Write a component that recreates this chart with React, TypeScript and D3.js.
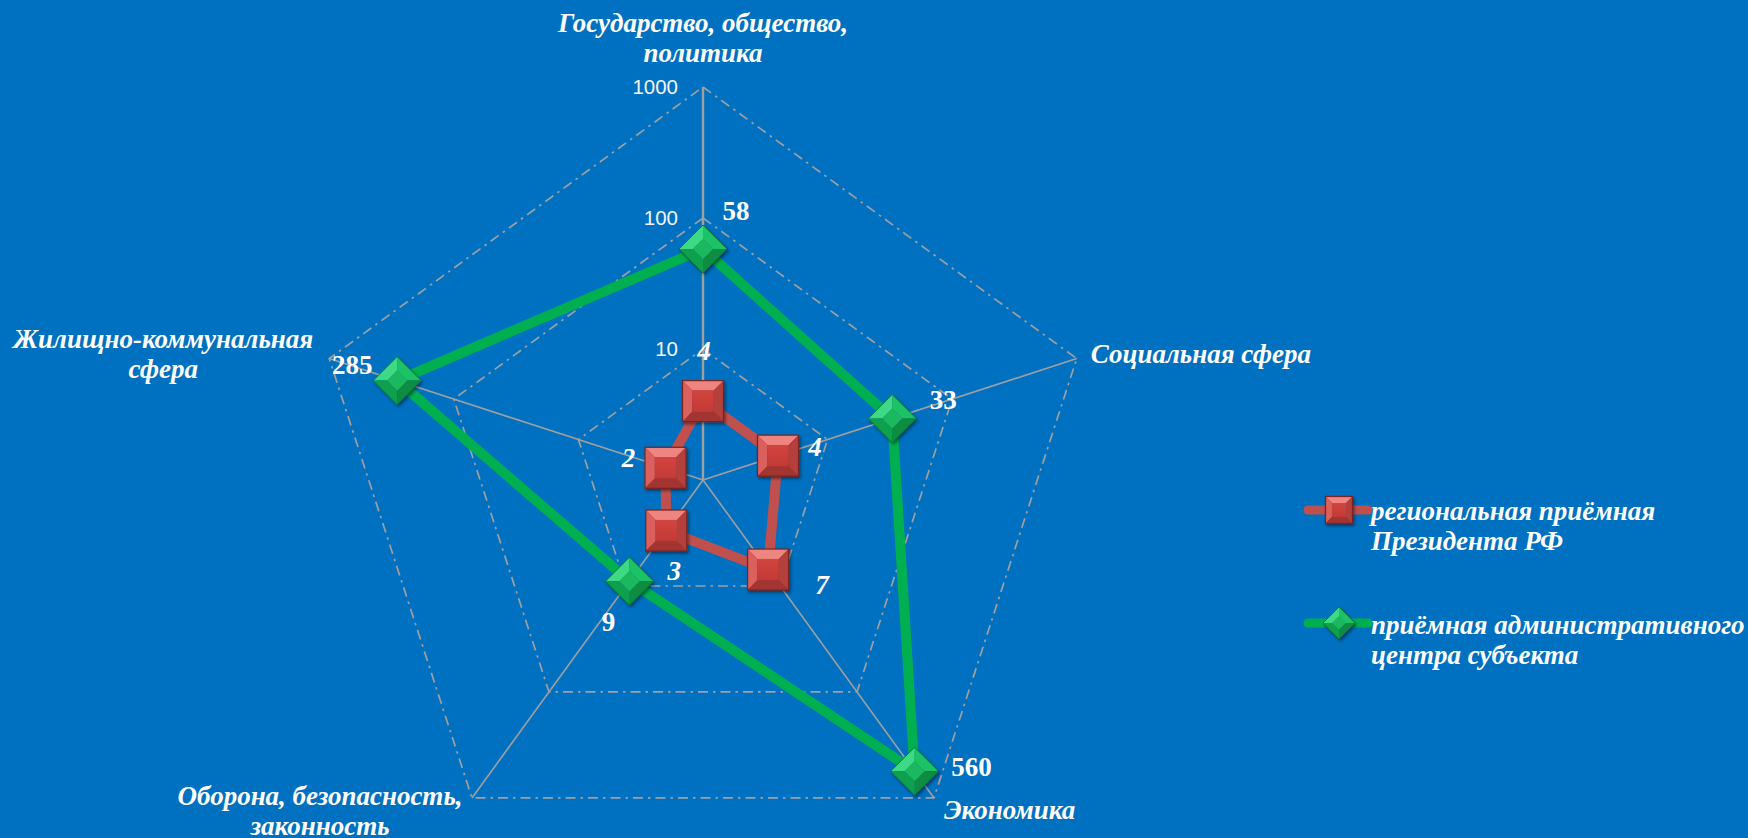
import React from "react";
import * as d3 from "d3";

// ---- data ----
const categories: string[] = [
  "Государство, общество,\nполитика",
  "Социальная сфера",
  "Экономика",
  "Оборона, безопасность,\nзаконность",
  "Жилищно-коммунальная\nсфера",
];
const seriesNames: string[] = [
  "региональная приёмная\nПрезидента РФ",
  "приёмная административного\nцентра субъекта",
];
const regionalValues: number[] = [4, 4, 7, 3, 2];
const adminValues: number[] = [58, 33, 560, 9, 285];
const tickValues: number[] = [1, 10, 100, 1000];

// ---- layout (positions / styles, not data) ----
const W = 1748;
const H = 838;
const CX = 703;
const CY = 480;
const R = 393;
const BG = "#0070c0";
const GRID = "#a0a0a0";
const RED = "#c0504d";
const GREEN = "#00b050";
const SERIF = "'Liberation Serif', 'Times New Roman', serif";
const SANS = "'Liberation Sans', Arial, sans-serif";
const FS = 27;

// label placement relative to outer vertex: [dx, dy, anchor]
const catLabelPos: [number, number, string][] = [
  [0, -55, "middle"],
  [14, 4, "start"],
  [10, 21, "start"],
  [-152, 7, "middle"],
  [-166, -11, "middle"],
];
const redLabelOff: [number, number][] = [
  [1, -51],
  [37, -9],
  [54, 15],
  [8, 40],
  [-37, -10],
];
const greenLabelOff: [number, number][] = [
  [33, -38],
  [51, -19],
  [57, -5],
  [-21, 40],
  [-45, -16],
];

const rScale = d3.scaleLog().domain([1, 1000]).range([0, R]);
const angle = (i: number) => (i * 2 * Math.PI) / categories.length;
const pt = (i: number, r: number): [number, number] => [
  CX + r * Math.sin(angle(i)),
  CY - r * Math.cos(angle(i)),
];

function BevelSquare({ x, y, s }: { x: number; y: number; s: number }) {
  const h = s / 2;
  const b = s * 0.24;
  const i = h - b;
  const P = (arr: number[][]) => arr.map((p) => p.join(",")).join(" ");
  return (
    <g filter="url(#shadow)">
      <rect x={x - h} y={y - h} width={s} height={s} fill="#8f2c29" />
      <polygon points={P([[x - h, y - h], [x + h, y - h], [x + i, y - i], [x - i, y - i]])} fill="#ee8580" />
      <polygon points={P([[x - h, y - h], [x - i, y - i], [x - i, y + i], [x - h, y + h]])} fill="#d9605b" />
      <polygon points={P([[x + h, y - h], [x + h, y + h], [x + i, y + i], [x + i, y - i]])} fill="#b43f3b" />
      <polygon points={P([[x - h, y + h], [x - i, y + i], [x + i, y + i], [x + h, y + h]])} fill="#a23431" />
      <rect x={x - i} y={y - i} width={2 * i} height={2 * i} fill="url(#redInner)" />
      <rect x={x - h} y={y - h} width={s} height={s} fill="none" stroke="#7a2422" strokeWidth={1.2} />
    </g>
  );
}

function BevelDiamond({ x, y, h }: { x: number; y: number; h: number }) {
  const i = h * 0.42;
  const P = (arr: number[][]) => arr.map((p) => p.join(",")).join(" ");
  const T = [x, y - h], Rt = [x + h, y], B = [x, y + h], L = [x - h, y];
  const t = [x, y - i], r = [x + i, y], b = [x, y + i], l = [x - i, y];
  return (
    <g filter="url(#shadow)">
      <polygon points={P([L, T, t, l])} fill="#3ed985" />
      <polygon points={P([T, Rt, r, t])} fill="#1fc266" />
      <polygon points={P([Rt, B, b, r])} fill="#078c42" />
      <polygon points={P([B, L, l, b])} fill="#0ea04e" />
      <polygon points={P([t, r, b, l])} fill="#1cb85f" />
      <polygon points={P([T, Rt, B, L])} fill="none" stroke="#087a38" strokeWidth={1} />
    </g>
  );
}

export default function App() {
  const n = categories.length;
  const line = d3
    .lineRadial<number>()
    .angle((_, i) => angle(i))
    .radius((v) => rScale(v))
    .curve(d3.curveLinearClosed);

  const ringPath = (v: number) =>
    d3
      .lineRadial<number>()
      .angle((_, i) => angle(i))
      .radius(() => rScale(v))
      .curve(d3.curveLinearClosed)(d3.range(n));

  const multiline = (
    text: string,
    x: number,
    y: number,
    anchor: string,
    lh: number,
    key: string,
    size: number
  ) => (
    <text
      key={key}
      x={x}
      y={y}
      textAnchor={anchor as any}
      fill="#ffffff"
      fontFamily={SERIF}
      fontStyle="italic"
      fontWeight="bold"
      fontSize={size}
    >
      {text.split("\n").map((s, k) => (
        <tspan key={k} x={x} dy={k === 0 ? 0 : lh}>
          {s}
        </tspan>
      ))}
    </text>
  );

  return (
    <div style={{ position: "fixed", left: 0, top: 0 }}>
      <svg width={W} height={H} style={{ display: "block" }}>
        <defs>
          <filter id="shadow" x="-50%" y="-50%" width="200%" height="200%">
            <feDropShadow dx="1.5" dy="2" stdDeviation="1.5" floodColor="#000" floodOpacity="0.45" />
          </filter>
          <linearGradient id="redInner" x1="0" y1="0" x2="0" y2="1">
            <stop offset="0" stopColor="#d2443f" />
            <stop offset="1" stopColor="#c23a36" />
          </linearGradient>
        </defs>
        <rect width={W} height={H} fill={BG} />

        {/* grid rings (skip center) */}
        {tickValues.slice(1).map((v) => (
          <path
            key={"ring" + v}
            d={ringPath(v) || ""}
            transform={`translate(${CX},${CY})`}
            fill="none"
            stroke={GRID}
            strokeWidth={1.7}
            strokeDasharray="10 5 2.5 5"
          />
        ))}
        {/* spokes */}
        {d3.range(n).map((i) => {
          const [x, y] = pt(i, R);
          return <line key={"sp" + i} x1={CX} y1={CY} x2={x} y2={y} stroke={GRID} strokeWidth={i === 0 ? 2.4 : 1.6} />;
        })}
        {/* tick labels */}
        {tickValues.map((v) => (
          <text
            key={"t" + v}
            x={CX - 25}
            y={CY - rScale(v)}
            dy="0.35em"
            textAnchor="end"
            fill="#f2f5f9"
            fontFamily={SANS}
            fontSize={20.5}
          >
            {v}
          </text>
        ))}

        {/* series lines */}
        <path d={line(regionalValues) || ""} transform={`translate(${CX},${CY})`} fill="none" stroke={RED} strokeWidth={10} strokeLinejoin="round" />
        <path d={line(adminValues) || ""} transform={`translate(${CX},${CY})`} fill="none" stroke={GREEN} strokeWidth={10} strokeLinejoin="round" />

        {/* markers */}
        {regionalValues.map((v, i) => {
          const [x, y] = pt(i, rScale(v));
          return <BevelSquare key={"rs" + i} x={x} y={y} s={41} />;
        })}
        {adminValues.map((v, i) => {
          const [x, y] = pt(i, rScale(v));
          return <BevelDiamond key={"gd" + i} x={x} y={y} h={24} />;
        })}

        {/* data labels */}
        {regionalValues.map((v, i) => {
          const [x, y] = pt(i, rScale(v));
          return (
            <text key={"rl" + i} x={x + redLabelOff[i][0]} y={y + redLabelOff[i][1]} dy="0.35em" textAnchor="middle" fill="#fff" fontFamily={SERIF} fontStyle="italic" fontWeight="bold" fontSize={FS}>
              {v}
            </text>
          );
        })}
        {adminValues.map((v, i) => {
          const [x, y] = pt(i, rScale(v));
          return (
            <text key={"gl" + i} x={x + greenLabelOff[i][0]} y={y + greenLabelOff[i][1]} dy="0.35em" textAnchor="middle" fill="#fff" fontFamily={SERIF} fontWeight="bold" fontSize={FS}>
              {v}
            </text>
          );
        })}

        {/* category labels */}
        {categories.map((c, i) => {
          const [x, y] = pt(i, R);
          const [dx, dy, anchor] = catLabelPos[i];
          return multiline(c, x + dx, y + dy, anchor, 30, "c" + i, FS);
        })}

        {/* legend */}
        <g>
          <line x1={1308} y1={510} x2={1368} y2={510} stroke={RED} strokeWidth={9} strokeLinecap="round" />
          <BevelSquare x={1339} y={510} s={27} />
          {multiline(seriesNames[0], 1371, 520, "start", 30, "lg0", FS)}
          <line x1={1308} y1={623} x2={1368} y2={623} stroke={GREEN} strokeWidth={9} strokeLinecap="round" />
          <BevelDiamond x={1339} y={623} h={16} />
          {multiline(seriesNames[1], 1371, 634, "start", 30, "lg1", FS)}
        </g>
      </svg>
    </div>
  );
}
